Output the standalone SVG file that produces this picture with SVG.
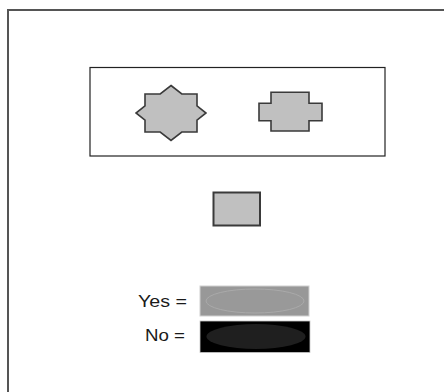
<svg xmlns="http://www.w3.org/2000/svg" width="444" height="392" viewBox="0 0 444 392">
<style>
.shape{fill:#c0c0c0;stroke:#3a3a3a;stroke-width:1.6;stroke-linejoin:miter}
.lbl{font-family:"Liberation Sans",Arial,sans-serif;font-size:16px;fill:#1a1a1a}
</style>
<rect width="444" height="392" fill="#ffffff"/>
<g id="frame">
<rect x="8" y="10" width="500" height="500" fill="none" stroke="#555555" stroke-width="2"/>
</g>
<g id="container">
<rect x="90" y="67.5" width="295" height="88.5" fill="none" stroke="#222222" stroke-width="1.2"/>
</g>
<g id="star">
<polygon class="shape" points="171,85.5 181.8,94 197,94 197,105.9 206,113 197,120.1 197,132 181.8,132 171,140.5 160.2,132 145,132 145,120.1 136,113 145,105.9 145,94 160.2,94"/>
</g>
<g id="cross">
<polygon class="shape" points="271,92.3 309,92.3 309,103.3 322,103.3 322,120.7 309,120.7 309,131 271,131 271,120.7 259,120.7 259,103.3 271,103.3"/>
</g>
<g id="square">
<rect x="213.5" y="192.5" width="46.5" height="33" fill="#c0c0c0" stroke="#3a3a3a" stroke-width="2"/>
</g>
<g id="legend-yes">
<text class="lbl" x="138" y="306.5" textLength="49" lengthAdjust="spacingAndGlyphs">Yes =</text>
<rect x="200" y="286" width="109" height="30" fill="#989898" stroke="#d0d0d0" stroke-width="1"/>
<ellipse cx="255" cy="301" rx="49" ry="12" fill="#999999" stroke="#aaaaaa" stroke-width="1"/>
</g>
<g id="legend-no">
<text class="lbl" x="145" y="340.5" textLength="40" lengthAdjust="spacingAndGlyphs">No =</text>
<rect x="200" y="321" width="110" height="31.5" fill="#000000" stroke="#c8c8c8" stroke-width="0.8"/>
<ellipse cx="256" cy="336.5" rx="49.5" ry="12.5" fill="#1f1f1f"/>
</g>
<g id="connectors"/>
</svg>
